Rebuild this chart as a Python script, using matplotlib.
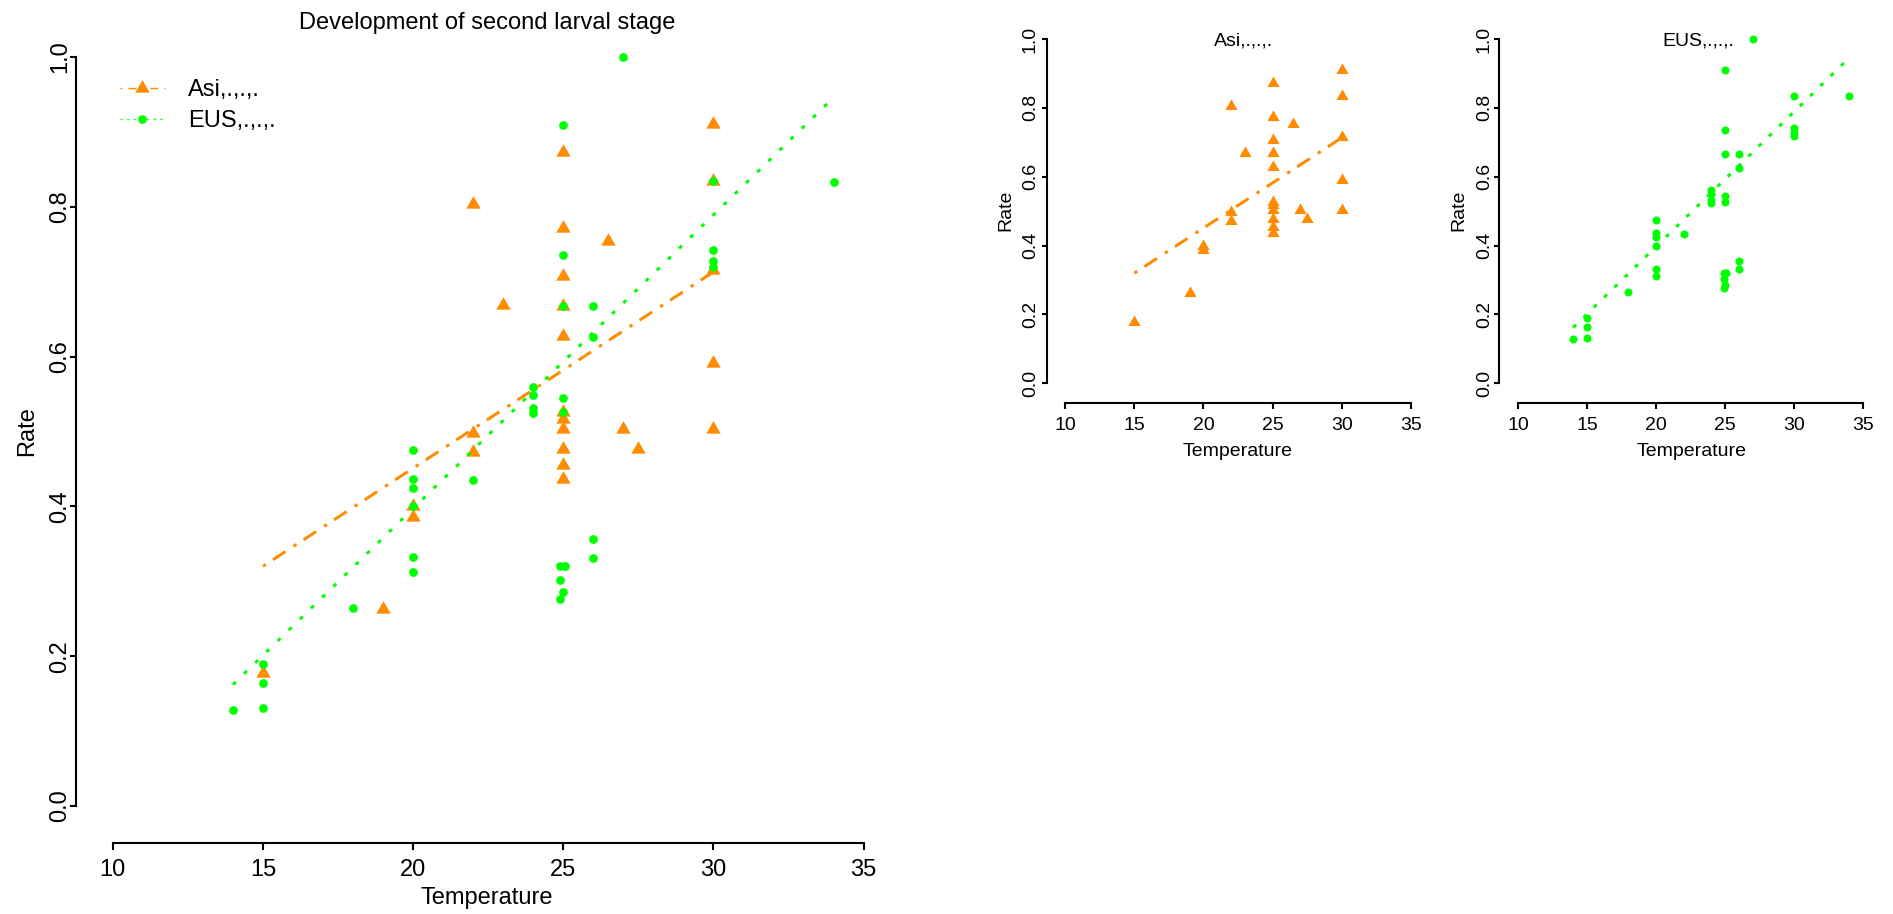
import matplotlib
matplotlib.use('Agg')
import matplotlib.pyplot as plt
from matplotlib.path import Path
from matplotlib.lines import Line2D

plt.rcParams['font.family'] = ['Liberation Sans', 'DejaVu Sans']
plt.rcParams['lines.scale_dashes'] = False

# ---------------- data ----------------
asi_temp = [15, 19, 20, 20, 22, 22, 22, 23,
            25, 25, 25, 25, 25, 25, 25, 25, 25, 25, 25,
            26.5, 27, 27.5, 30, 30, 30, 30, 30]
asi_rate = [0.177, 0.263, 0.400, 0.386, 0.804, 0.498, 0.472, 0.669,
            0.873, 0.772, 0.708, 0.668, 0.628, 0.526, 0.517, 0.503, 0.477, 0.455, 0.436,
            0.754, 0.503, 0.476, 0.911, 0.835, 0.716, 0.591, 0.503]

eus_temp = [14, 15, 15, 15, 18, 20, 20, 20, 20, 20, 20, 22,
            24, 24, 24, 24, 25, 25, 25, 25, 25,
            24.9, 25.05, 24.9, 25, 24.9,
            26, 26, 26, 26, 27, 30, 30, 30, 30, 34]
eus_rate = [0.128, 0.189, 0.164, 0.131, 0.264, 0.475, 0.437, 0.425, 0.400, 0.332, 0.313, 0.435,
            0.560, 0.549, 0.532, 0.525, 0.909, 0.736, 0.667, 0.545, 0.526,
            0.321, 0.320, 0.302, 0.286, 0.277,
            0.667, 0.626, 0.356, 0.331, 1.0, 0.834, 0.742, 0.727, 0.719, 0.833]

asi_fit_temp = [15, 30]
asi_fit_rate = [0.320, 0.713]
eus_fit_temp = [14, 34]
eus_fit_rate = [0.162, 0.946]

x_ticks = [10, 15, 20, 25, 30, 35]
y_ticks = [0.0, 0.2, 0.4, 0.6, 0.8, 1.0]
y_tick_labels = ['0.0', '0.2', '0.4', '0.6', '0.8', '1.0']

main_title = 'Development of second larval stage'
asi_label = 'Asi,.,.,.'
eus_label = 'EUS,.,.,.'
x_label = 'Temperature'
y_label = 'Rate'

# ---------------- styles ----------------
ORANGE = '#FF8C00'
GREEN = '#00FF00'
W, H = 1893, 914
PT = 0.72  # points per pixel at dpi 100

tri = Path([(0, 1), (-0.866, -0.5), (0.866, -0.5), (0, 1)],
           [Path.MOVETO, Path.LINETO, Path.LINETO, Path.CLOSEPOLY])

asi_dash = (0, (3.5 * PT, 8.5 * PT, 15 * PT, 9.5 * PT))
eus_dot_main = (0, (4 * PT, 11.6 * PT))
eus_dot_small = (0, (4 * PT, 10.4 * PT))

fig = plt.figure(figsize=(W / 100, H / 100), dpi=100)


def add_axes_px(left, right, top, bottom):
    return fig.add_axes([left / W, 1 - bottom / H, (right - left) / W, (bottom - top) / H])


def style(ax, xlim, ylim, fs, ticklen, xpad, ypad):
    ax.set_xlim(*xlim)
    ax.set_ylim(*ylim)
    ax.set_xticks(x_ticks)
    ax.set_xticklabels([str(t) for t in x_ticks])
    ax.set_yticks(y_ticks)
    ax.set_yticklabels(y_tick_labels)
    for s in ['top', 'right']:
        ax.spines[s].set_visible(False)
    for s in ['left', 'bottom']:
        ax.spines[s].set_linewidth(1.5)
    ax.spines['left'].set_bounds(0, 1)
    ax.spines['bottom'].set_bounds(10, 35)
    ax.tick_params(axis='x', length=ticklen * PT, width=1.5, pad=xpad * PT, labelsize=fs)
    ax.tick_params(axis='y', length=ticklen * PT, width=1.5, pad=ypad * PT, labelsize=fs)
    for lbl in ax.get_yticklabels():
        lbl.set_rotation(90)
        lbl.set_ha('center')
        lbl.set_va('center')
    ax.patch.set_alpha(0)


# ---------------- main panel ----------------
ax = add_axes_px(76.4, 893.7, 27, 843.3)
ax.plot(asi_temp, asi_rate, linestyle='none', marker=tri, ms=12, mew=0,
        color=ORANGE, clip_on=False, zorder=3)
ax.plot(eus_temp, eus_rate, linestyle='none', marker='o', ms=6.3, mew=0,
        color=GREEN, clip_on=False, zorder=4)
ax.plot(asi_fit_temp, asi_fit_rate, color=ORANGE, lw=3 * PT, linestyle=asi_dash,
        dash_capstyle='butt', zorder=5)
ax.plot(eus_fit_temp, eus_fit_rate, color=GREEN, lw=3 * PT, linestyle=eus_dot_main,
        dash_capstyle='butt', zorder=5)
style(ax, (8.79, 36.0), (-0.0498, 1.04), 17, 6.5, 9.2, 9.9)
ax.set_xlabel(x_label, fontsize=17, va='baseline')
ax.xaxis.set_label_coords(0.5024, -0.0747)
ax.set_ylabel(y_label, fontsize=17, va='center')
ax.yaxis.set_label_coords(-0.0604, 0.5051)
ax.text(0.5024, 0.9972, main_title, transform=ax.transAxes, fontsize=17,
        ha='center', va='baseline')

handles = [
    Line2D([], [], color=ORANGE, lw=1.0, linestyle=(0, (1.4, 4.3, 5.8, 4.3)),
           marker=tri, ms=12, mew=0),
    Line2D([], [], color=GREEN, lw=1.0, linestyle=(0, (1.4, 3.4)),
           marker='o', ms=6.3, mew=0),
]
ax.legend(handles, [asi_label, eus_label], loc='upper left',
          bbox_to_anchor=(0.0533, 0.9357), bbox_transform=ax.transAxes,
          frameon=False, borderpad=0, borderaxespad=0, handlelength=1.9,
          handletextpad=0.97, labelspacing=0.38, fontsize=17, numpoints=1)

# ---------------- Asi panel ----------------
ax2 = add_axes_px(1046.7, 1424.5, 25.2, 402.7)
ax2.plot(asi_temp, asi_rate, linestyle='none', marker=tri, ms=10.2, mew=0,
         color=ORANGE, clip_on=False, zorder=3)
ax2.plot(asi_fit_temp, asi_fit_rate, color=ORANGE, lw=3 * PT, linestyle=asi_dash,
         dash_capstyle='butt', zorder=5)
style(ax2, (8.654, 36.0), (-0.0563, 1.04), 14, 5.5, 8.5, 10.8)
ax2.set_xlabel(x_label, fontsize=14, va='baseline')
ax2.xaxis.set_label_coords(0.5064, -0.1412)
ax2.set_ylabel(y_label, fontsize=14, va='center')
ax2.yaxis.set_label_coords(-0.1093, 0.5105)
ax2.text(0.5204, 0.9475, asi_label, transform=ax2.transAxes, fontsize=14,
         ha='center', va='baseline')

# ---------------- EUS panel ----------------
ax3 = add_axes_px(1499.3, 1877.1, 25.2, 402.7)
ax3.plot(eus_temp, eus_rate, linestyle='none', marker='o', ms=5.8, mew=0,
         color=GREEN, clip_on=False, zorder=3)
ax3.plot(eus_fit_temp, eus_fit_rate, color=GREEN, lw=3 * PT, linestyle=eus_dot_small,
         dash_capstyle='butt', zorder=5)
style(ax3, (8.646, 36.0), (-0.0563, 1.04), 14, 5.5, 8.5, 9.4)
ax3.set_xlabel(x_label, fontsize=14, va='baseline')
ax3.xaxis.set_label_coords(0.508, -0.1412)
ax3.set_ylabel(y_label, fontsize=14, va='center')
ax3.yaxis.set_label_coords(-0.1072, 0.5105)
ax3.text(0.5267, 0.9475, eus_label, transform=ax3.transAxes, fontsize=14,
         ha='center', va='baseline')

fig.savefig('out.png', dpi=100, facecolor='white')
